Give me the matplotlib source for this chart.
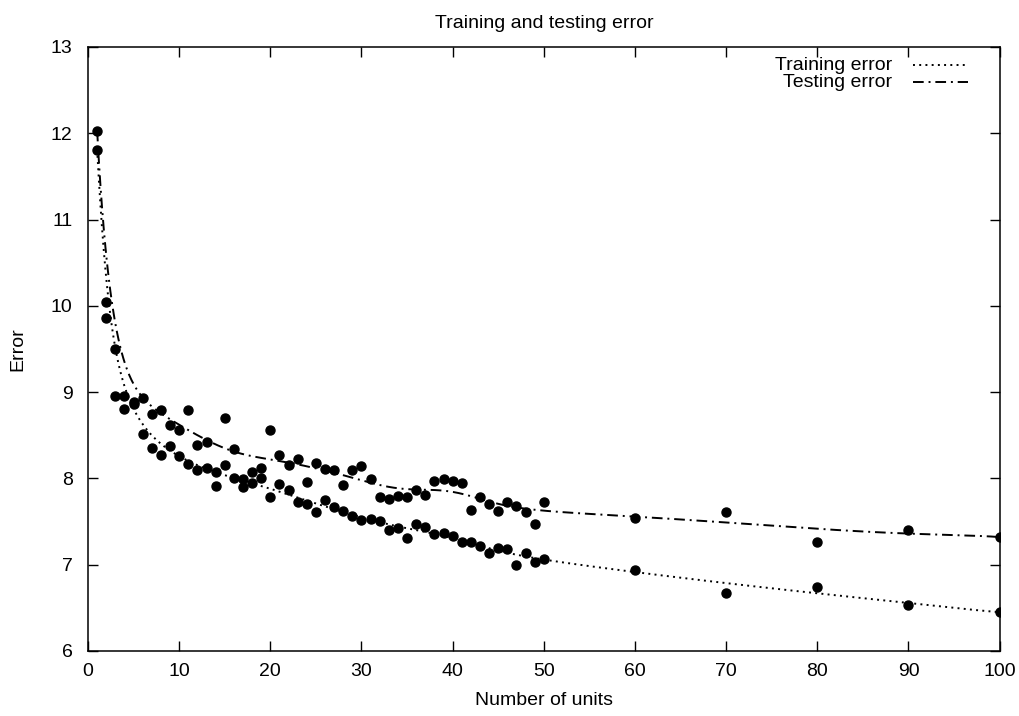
import math
import numpy as np
import matplotlib
matplotlib.use("Agg")
import matplotlib.pyplot as plt

plt.rcParams['font.family'] = ['Liberation Sans', 'DejaVu Sans']

# number of hidden units tried
units = list(range(1, 51)) + [60, 70, 80, 90, 100]

train_err = [11.81, 9.86, 8.95, 8.80, 8.86, 8.51, 8.35, 8.27, 8.38, 8.26,
             8.17, 8.10, 8.12, 7.91, 8.16, 8.01, 7.90, 7.95, 8.01, 7.79,
             7.93, 7.87, 7.73, 7.70, 7.61, 7.75, 7.67, 7.62, 7.57, 7.52,
             7.53, 7.51, 7.40, 7.43, 7.31, 7.47, 7.44, 7.36, 7.37, 7.33,
             7.26, 7.26, 7.22, 7.13, 7.19, 7.18, 7.00, 7.13, 7.03, 7.07,
             6.94, 6.67, 6.74, 6.53, 6.45]

test_err = [12.03, 10.05, 9.50, 8.96, 8.89, 8.93, 8.75, 8.79, 8.62, 8.56,
            8.79, 8.39, 8.42, 8.07, 8.70, 8.34, 7.99, 8.08, 8.12, 8.56,
            8.27, 8.16, 8.22, 7.96, 8.18, 8.11, 8.10, 7.92, 8.10, 8.14,
            7.99, 7.79, 7.76, 7.80, 7.78, 7.87, 7.81, 7.97, 7.99, 7.97,
            7.95, 7.63, 7.78, 7.70, 7.62, 7.73, 7.68, 7.61, 7.47, 7.73,
            7.54, 7.61, 7.26, 7.40, 7.32]


def bezier(xs, ys, npts=600):
    # one bezier curve using every data point as a control point
    n = len(xs) - 1
    t = np.linspace(0, 1, npts)
    bx = np.zeros(npts)
    by = np.zeros(npts)
    for i in range(n + 1):
        b = math.comb(n, i) * t**i * (1 - t)**(n - i)
        bx += b * xs[i]
        by += b * ys[i]
    return bx, by


dotted = (0, (1, 2.2))
dashdot = (0, (5.5, 2.5, 1, 2.5))

fig = plt.figure(figsize=(10.2, 7.16), dpi=100)
ax = fig.add_axes([0.0863, 0.0908, 0.8937, 0.8436])

tx, ty = bezier(units, train_err)
sx, sy = bezier(units, test_err)
ax.plot(tx, ty, color='black', lw=1.4, linestyle=dotted)
ax.plot(sx, sy, color='black', lw=1.4, linestyle=dashdot)

ax.plot(units, train_err, 'o', color='black', ms=6.5, mec='black')
ax.plot(units, test_err, 'o', color='black', ms=6.5, mec='black')

ax.set_xlim(0, 100)
ax.set_ylim(6, 13)
ax.set_xticks(np.arange(0, 101, 10))
ax.set_yticks(np.arange(6, 14, 1))
ax.tick_params(direction='in', length=7, width=1.0, top=True, right=True,
               labelsize=14, colors='black')
ax.tick_params(axis='y', pad=11)
ax.tick_params(axis='x', pad=9)
for s in ax.spines.values():
    s.set_linewidth(1.1)

ax.set_title('Training and testing error', fontsize=14, pad=14)
ax.set_xlabel('Number of units', fontsize=14, labelpad=8)
ax.set_ylabel('Error', fontsize=14, labelpad=18)

# legend in gnuplot style: right aligned text, sample line to its right
leg_rows = [('Training error', dotted), ('Testing error', dashdot)]
for k, (name, ls) in enumerate(leg_rows):
    yy = 0.970 - k * 0.028
    ax.text(0.882, yy, name, transform=ax.transAxes, ha='right', va='center',
            fontsize=14)
    ax.plot([0.905, 0.965], [yy, yy], transform=ax.transAxes, color='black',
            lw=1.4, linestyle=ls)

fig.savefig('out.png', dpi=100)
